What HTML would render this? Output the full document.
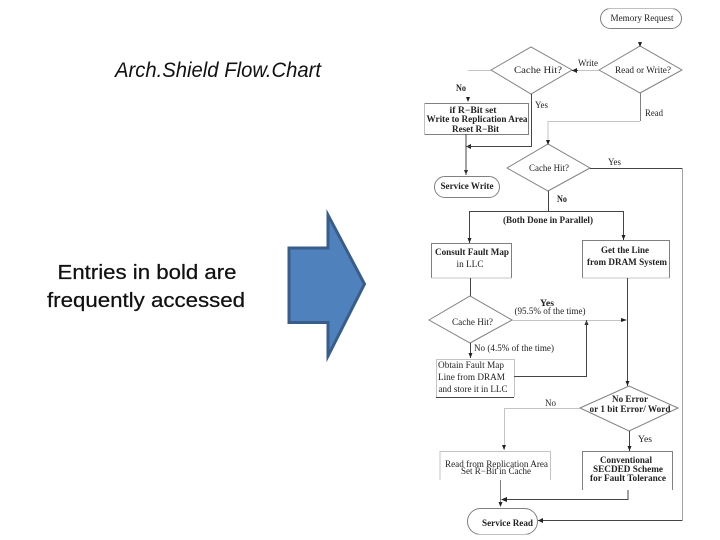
<!DOCTYPE html>
<html><head><meta charset="utf-8"><style>
html,body{margin:0;padding:0;background:#fff}
svg{display:block}
.f text{font-family:"Liberation Serif",serif;font-size:9px;fill:#222;text-anchor:middle}
.f .b{font-weight:bold}
.l{fill:none;stroke:#444;stroke-width:1}
.m{fill:none;stroke:#808080;stroke-width:1}
.g{fill:none;stroke:#c4c4c4;stroke-width:1}
.a{fill:#222;stroke:none}
</style></head><body>
<svg width="720" height="540" viewBox="0 0 720 540" xmlns="http://www.w3.org/2000/svg">
<defs><filter id="bl" x="0" y="0" width="100%" height="100%"><feGaussianBlur stdDeviation="0.35"/></filter></defs>
<rect width="720" height="540" fill="#fff"/>
<text x="115" y="77" font-family="Liberation Sans,sans-serif" font-style="italic" font-size="21" fill="#111" textLength="206" lengthAdjust="spacingAndGlyphs">Arch.Shield Flow.Chart</text>
<text x="147" y="279" font-family="Liberation Sans,sans-serif" font-size="20" fill="#111" stroke="#111" stroke-width=".25" text-anchor="middle" textLength="179" lengthAdjust="spacingAndGlyphs">Entries in bold are</text>
<text x="146" y="307" font-family="Liberation Sans,sans-serif" font-size="20" fill="#111" stroke="#111" stroke-width=".25" text-anchor="middle" textLength="198" lengthAdjust="spacingAndGlyphs">frequently accessed</text>
<polygon points="289,248 328,248 328,215 364.500,284 328,356 328,322.500 289,322.500" fill="#4f81bd" stroke="#385d8a" stroke-width="3" stroke-miterlimit="10"/>
<g class="f" filter="url(#bl)">
<rect class="m" x="600.500" y="8.500" width="81" height="20" rx="10"/>
<text x="642" y="21" textLength="63" lengthAdjust="spacingAndGlyphs">Memory Request</text>
<polygon class="m" points="599,70 640,46 682,70 640,93"/>
<text x="643" y="73" textLength="56" lengthAdjust="spacingAndGlyphs">Read or Write?</text>
<polygon class="m" points="491,70 531,47 572,70 531,94"/>
<text x="538" y="73" textLength="48" lengthAdjust="spacingAndGlyphs">Cache Hit?</text>
<path class="g" d="M468,70.500H491"/>
<path class="l" d="M572,70.500H578"/>
<path class="g" d="M578,70.500H599"/>
<path class="a" d="M572,70.500l5,-2.500v5zM640,47l-2,-5h4zM466,146.500l5,-2.500v5zM466,175l-2,-5h4zM468,102l-2,-5h4z"/>
<text x="588" y="66" textLength="20" lengthAdjust="spacingAndGlyphs">Write</text>
<text x="461" y="91" class="b" textLength="10" lengthAdjust="spacingAndGlyphs">No</text>
<text x="541.500" y="108" textLength="13" lengthAdjust="spacingAndGlyphs">Yes</text>
<text x="654" y="116" textLength="18" lengthAdjust="spacingAndGlyphs">Read</text>
<rect class="m" x="424.500" y="103.500" width="104" height="31"/>
<text x="473" y="113" class="b" textLength="47" lengthAdjust="spacingAndGlyphs">if R−Bit set</text>
<text x="477" y="122" class="b" textLength="101" lengthAdjust="spacingAndGlyphs">Write to Replication Area</text>
<text x="475.500" y="132" class="b" textLength="47" lengthAdjust="spacingAndGlyphs">Reset R−Bit</text>
<path class="l" d="M531.500,94V146.500H466M466,134V175"/>
<rect class="m" x="434.500" y="176.500" width="65" height="21" rx="10.500"/>
<text x="467" y="189" class="b" textLength="53" lengthAdjust="spacingAndGlyphs">Service Write</text>
<path class="m" d="M640.500,93V121"/><path class="g" d="M640,121.500H548V144"/>
<polygon class="m" points="507,168 548,144 590,168 548,191"/>
<text x="549" y="171" textLength="40" lengthAdjust="spacingAndGlyphs">Cache Hit?</text>
<path class="a" d="M548,145l-2,-5h4z"/>
<path class="l" d="M590,168.500H682.500V520.500H538"/>
<path class="a" d="M538,520.500l5,-2.500v5z"/>
<text x="614.500" y="165" textLength="13" lengthAdjust="spacingAndGlyphs">Yes</text>
<path class="l" d="M548.500,191V211.500M469.500,243V211.500H623.500V240"/>
<path class="a" d="M469.500,243l-2,-5h4zM623.500,240l-2,-5h4z"/>
<text x="562" y="202" class="b" textLength="10" lengthAdjust="spacingAndGlyphs">No</text>
<text x="548" y="223" class="b" textLength="90" lengthAdjust="spacingAndGlyphs">(Both Done in Parallel)</text>
<path class="m" d="M431.500,278V243.500H511.500V278"/><path class="g" d="M431.500,278H511.500"/>
<text x="472" y="255" class="b" textLength="74" lengthAdjust="spacingAndGlyphs">Consult Fault Map</text>
<text x="470" y="267" textLength="27" lengthAdjust="spacingAndGlyphs">in LLC</text>
<path class="m" d="M582.500,278V240.500H669.500V278"/><path class="g" d="M582.500,278H669.500"/>
<text x="625" y="253" class="b" textLength="48" lengthAdjust="spacingAndGlyphs">Get the Line</text>
<text x="627" y="265" class="b" textLength="80" lengthAdjust="spacingAndGlyphs">from DRAM System</text>
<path class="l" d="M470.500,278V296M627.500,278V386"/>
<path class="a" d="M627.500,386l-2,-5h4z"/>
<polygon class="m" points="429,320 470,296 512,320 470,343"/>
<text x="472.500" y="325" textLength="41" lengthAdjust="spacingAndGlyphs">Cache Hit?</text>
<path class="g" d="M512,320.500H622"/>
<path class="a" d="M627,320l-6,-2v4z"/>
<text x="547" y="306" class="b" textLength="14" lengthAdjust="spacingAndGlyphs">Yes</text>
<text x="550" y="314" textLength="71" lengthAdjust="spacingAndGlyphs">(95.5% of the time)</text>
<path class="l" d="M470.500,343V358"/>
<path class="a" d="M470.500,358l-2,-5h4zM586.500,320l-2,5h4z"/>
<text x="514" y="351" textLength="80" lengthAdjust="spacingAndGlyphs">No (4.5% of the time)</text>
<path class="g" d="M436.500,397V359.500H514.500V397"/><path class="l" d="M436,397.500H514"/>
<path class="l" d="M514,376.500H586.500V320"/>
<text x="471" y="368" textLength="66" lengthAdjust="spacingAndGlyphs">Obtain Fault Map</text>
<text x="471.500" y="380" textLength="67" lengthAdjust="spacingAndGlyphs">Line from DRAM</text>
<text x="473" y="392" textLength="69" lengthAdjust="spacingAndGlyphs">and store it in LLC</text>
<polygon class="m" points="580,408 629,386 678,408 629,431"/>
<text x="630" y="402" class="b" textLength="36" lengthAdjust="spacingAndGlyphs">No Error</text>
<text x="630" y="412" class="b" textLength="81" lengthAdjust="spacingAndGlyphs">or 1 bit Error/ Word</text>
<path class="g" d="M580,408.500H504.500V450"/>
<path class="a" d="M504,450l-2,-5h4z"/>
<text x="550.500" y="406" textLength="11" lengthAdjust="spacingAndGlyphs">No</text>
<path class="l" d="M629.500,431V451"/><path class="a" d="M629.500,451l-2,-5h4z"/>
<text x="645" y="442" textLength="14" lengthAdjust="spacingAndGlyphs">Yes</text>
<path class="g" d="M440,480V451.500H550.500V480"/>
<text x="496.500" y="467" textLength="103" lengthAdjust="spacingAndGlyphs">Read from Replication Area</text>
<text x="496" y="474" textLength="70" lengthAdjust="spacingAndGlyphs">Set R−Bit in Cache</text>
<path class="m" d="M582.500,490V451.500H672.500V490"/>
<text x="626" y="463" class="b" textLength="52" lengthAdjust="spacingAndGlyphs">Conventional</text>
<text x="628" y="472" class="b" textLength="70" lengthAdjust="spacingAndGlyphs">SECDED Scheme</text>
<text x="628" y="481" class="b" textLength="76" lengthAdjust="spacingAndGlyphs">for Fault Tolerance</text>
<path class="m" d="M500.500,480V506"/><path class="l" d="M628,490V499.500H502"/>
<path class="a" d="M501,499.500l6,-2.500v5zM500.500,507l-2,-5h4z"/>
<rect class="m" x="467.500" y="508.500" width="70" height="26" rx="13"/>
<text x="507.500" y="526" class="b" textLength="51" lengthAdjust="spacingAndGlyphs">Service Read</text>
</g>
</svg>
</body></html>
